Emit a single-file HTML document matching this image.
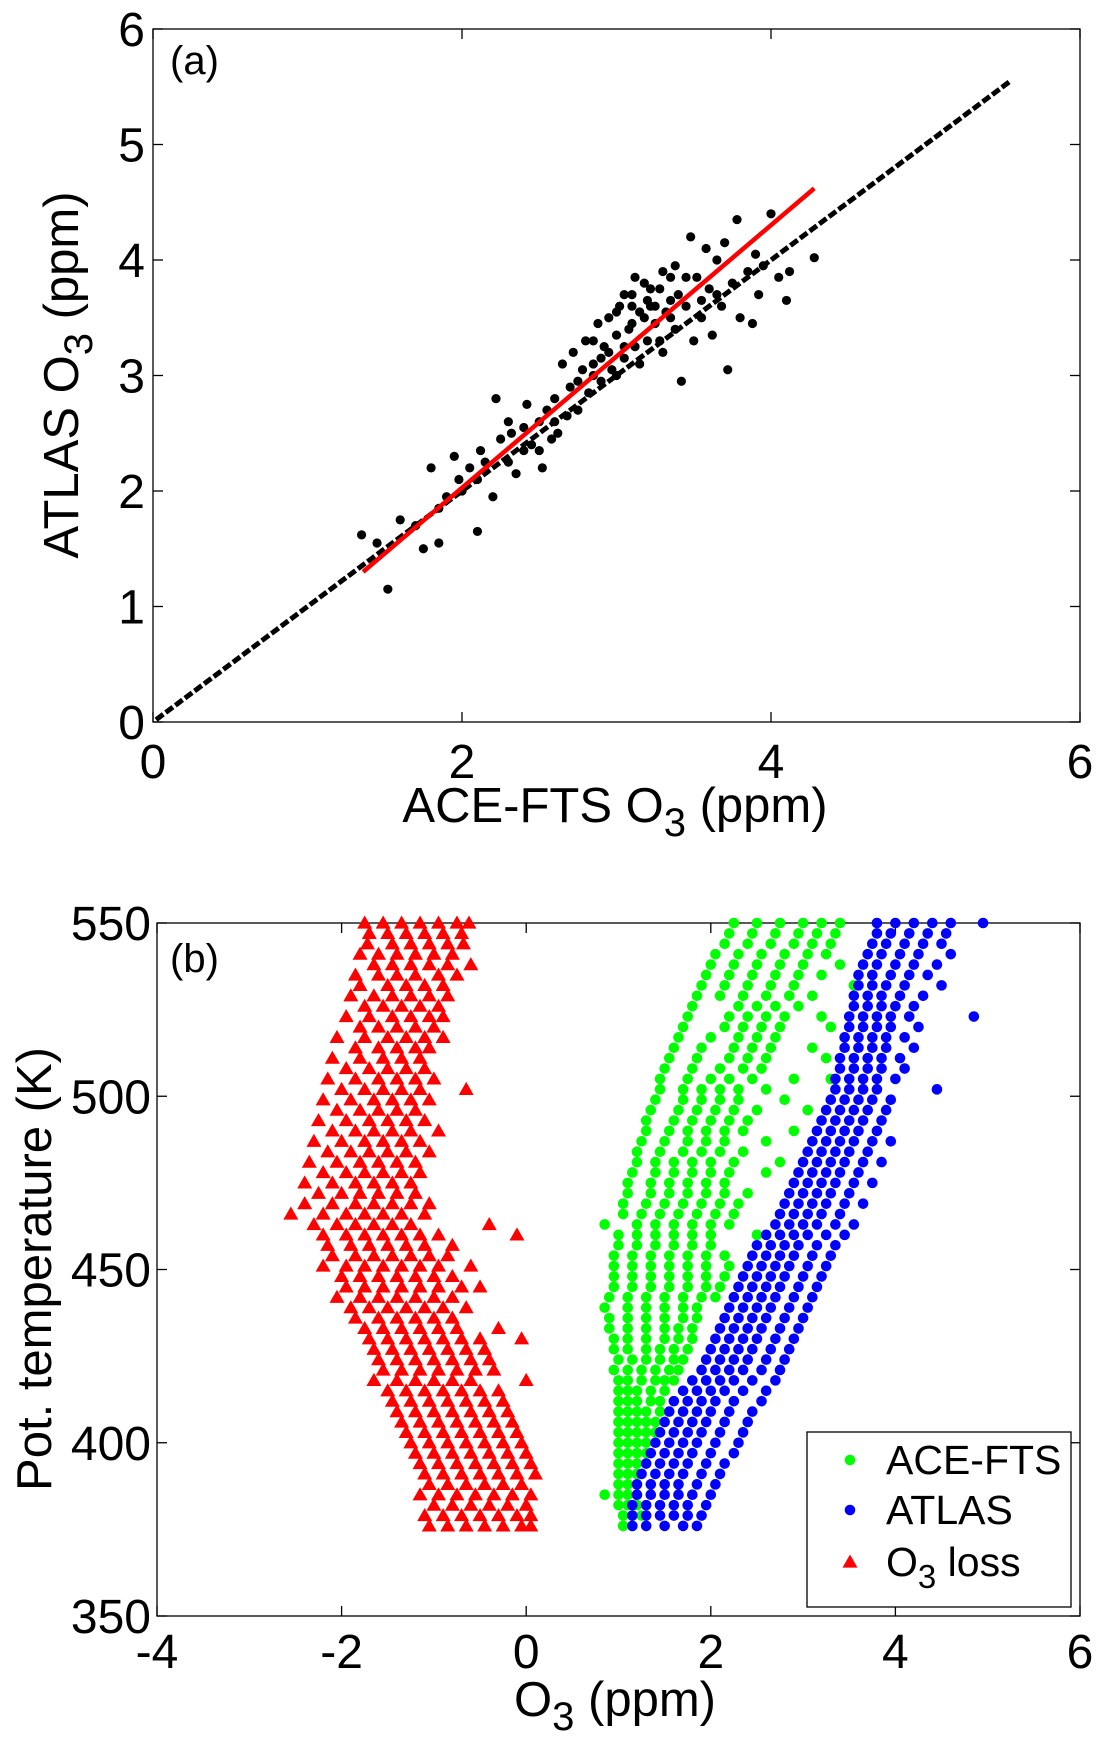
<!DOCTYPE html>
<html><head><meta charset="utf-8"><style>
html,body{margin:0;padding:0;background:#fff}
svg{display:block;font-family:"Liberation Sans",sans-serif}
</style></head><body>
<svg id="fig" width="1107" height="1757" viewBox="0 0 1107 1757" xmlns="http://www.w3.org/2000/svg">
<g id="pa"></g>
<g id="pb"></g>
</svg>
<script>
// ---------- Panel (a) data ----------
const aXTicks=[0,2,4,6];
const aYTicks=[0,1,2,3,4,5,6];
const aPoints=[[1.35,1.62],[1.52,1.15],[1.45,1.55],[1.6,1.75],[1.7,1.7],[1.75,1.5],[1.8,2.2],[1.85,1.55],[1.9,1.95],[1.95,2.3],[1.98,2.1],[2.05,2.2],[2.1,1.65],[2.12,2.35],[2.15,2.25],[2.2,1.95],[2.22,2.8],[2.25,2.45],[2.3,2.25],[2.32,2.5],[2.35,2.15],[2.4,2.55],[2.42,2.75],[2.45,2.4],[2.5,2.6],[2.52,2.2],[2.55,2.7],[2.58,2.45],[2.6,2.8],[2.62,2.5],[2.65,3.1],[2.68,2.65],[2.7,2.9],[2.72,3.2],[2.75,2.7],[2.78,3.05],[2.8,3.3],[2.82,2.85],[2.85,3.1],[2.88,3.45],[2.9,2.95],[2.92,3.25],[2.95,3.5],[2.97,3.05],[3.0,3.35],[3.02,3.6],[3.05,3.15],[3.08,3.4],[3.1,3.7],[3.12,3.25],[3.15,3.55],[3.18,3.8],[3.2,3.3],[3.22,3.6],[3.25,3.45],[3.28,3.75],[3.3,3.2],[3.32,3.55],[3.35,3.85],[3.38,3.4],[3.4,3.7],[3.42,2.95],[3.45,3.6],[3.48,4.2],[3.5,3.3],[3.52,3.85],[3.55,3.5],[3.58,4.1],[3.6,3.75],[3.62,3.35],[3.65,4.0],[3.68,3.6],[3.7,4.15],[3.72,3.05],[3.75,3.8],[3.78,4.35],[3.8,3.5],[3.85,3.9],[3.9,4.05],[3.92,3.7],[3.95,3.95],[4.0,4.4],[4.05,3.85],[4.1,3.65],[4.28,4.02],[3.0,3.0],[2.9,3.15],[3.1,3.45],[3.2,3.65],[3.3,3.9],[2.6,2.6],[2.4,2.35],[2.0,2.0],[1.85,1.85],[3.05,3.25],[3.15,3.1],[3.25,3.6],[3.35,3.5],[2.75,2.95],[2.85,3.3],[3.45,3.85],[3.55,3.65],[3.65,3.7],[3.0,3.55],[2.5,2.35],[2.3,2.6],[2.1,2.1],[3.38,3.95],[3.12,3.85],[4.12,3.9],[3.88,3.45],[3.05,3.7],[3.18,3.5],[3.28,3.3],[2.95,3.2],[3.22,3.75],[3.35,3.65],[2.85,3.0],[3.1,3.6]];
const aOneToOne=[[0.02,0.02],[5.55,5.55]];
const aFit=[[1.36,1.3],[4.28,4.62]];

// ---------- Panel (b) data: rows [theta, x1, x2, ...] ----------
const bXTicks=[-4,-2,0,2,4,6];
const bYTicks=[350,400,450,500,550];
const lossRows=[[550,-1.75,-1.55,-1.35,-1.15,-0.95,-0.75,-0.62],[547,-1.7,-1.5,-1.3,-1.1,-0.9,-0.7],[544,-1.72,-1.45,-1.25,-1.05,-0.85,-0.68],[541,-1.8,-1.6,-1.4,-1.2,-1.0,-0.8],[538,-1.65,-1.45,-1.25,-1.05,-0.85,-0.6],[535,-1.85,-1.6,-1.4,-1.2,-0.95,-0.75],[532,-1.8,-1.5,-1.3,-1.1,-0.9],[529,-1.9,-1.65,-1.45,-1.25,-1.05,-0.85],[526,-1.75,-1.55,-1.35,-1.15,-0.95],[523,-1.95,-1.7,-1.45,-1.25,-1.05,-0.9],[520,-1.8,-1.6,-1.4,-1.2,-1.0],[517,-2.05,-1.75,-1.5,-1.3,-1.1,-0.9],[514,-1.85,-1.6,-1.4,-1.2,-1.05],[511,-2.1,-1.8,-1.55,-1.35,-1.15],[508,-1.95,-1.7,-1.5,-1.3,-1.1],[505,-2.15,-1.85,-1.6,-1.4,-1.2,-1.0],[502,-2.0,-1.75,-1.55,-1.35,-1.15,-0.65],[499,-2.2,-1.9,-1.65,-1.45,-1.25,-1.05],[496,-2.05,-1.8,-1.6,-1.4,-1.2],[493,-2.25,-1.95,-1.7,-1.5,-1.3,-1.1],[490,-2.1,-1.85,-1.65,-1.45,-1.25,-0.95],[487,-2.3,-2.0,-1.75,-1.55,-1.35,-1.15],[484,-2.15,-1.9,-1.7,-1.5,-1.3,-1.05],[481,-2.35,-2.05,-1.8,-1.6,-1.4,-1.2],[478,-2.2,-1.95,-1.75,-1.55,-1.35,-1.15],[475,-2.4,-2.1,-1.85,-1.65,-1.45,-1.25],[472,-2.25,-2.0,-1.8,-1.6,-1.4,-1.2],[469,-2.4,-2.1,-1.85,-1.65,-1.45,-1.25,-1.05],[466,-2.55,-2.2,-1.95,-1.75,-1.55,-1.35,-1.1],[463,-2.3,-2.05,-1.85,-1.65,-1.45,-1.25,-0.4],[460,-2.2,-1.95,-1.75,-1.55,-1.35,-1.15,-0.95,-0.1],[457,-2.15,-1.9,-1.7,-1.5,-1.3,-1.1,-0.8],[454,-2.1,-1.85,-1.65,-1.45,-1.25,-1.05,-0.85],[451,-2.2,-1.95,-1.75,-1.55,-1.35,-1.15,-0.95,-0.6],[448,-2.0,-1.8,-1.6,-1.4,-1.2,-1.0,-0.8],[445,-1.95,-1.75,-1.55,-1.35,-1.15,-0.95,-0.7,-0.5],[442,-2.05,-1.8,-1.6,-1.4,-1.2,-1.0,-0.8],[439,-1.9,-1.7,-1.5,-1.3,-1.1,-0.9,-0.65],[436,-1.85,-1.6,-1.4,-1.2,-1.0,-0.8],[433,-1.75,-1.55,-1.35,-1.15,-0.95,-0.75,-0.3],[430,-1.7,-1.5,-1.3,-1.1,-0.9,-0.7,-0.5,-0.05],[427,-1.65,-1.45,-1.25,-1.05,-0.85,-0.65,-0.45],[424,-1.6,-1.4,-1.2,-1.0,-0.8,-0.6,-0.4],[421,-1.55,-1.35,-1.15,-0.95,-0.75,-0.55,-0.35],[418,-1.65,-1.4,-1.2,-1.0,-0.8,-0.6,0.0],[415,-1.5,-1.3,-1.1,-0.9,-0.7,-0.5,-0.3],[412,-1.45,-1.25,-1.05,-0.85,-0.65,-0.45,-0.25],[409,-1.4,-1.2,-1.0,-0.8,-0.6,-0.4,-0.2],[406,-1.35,-1.15,-0.95,-0.75,-0.55,-0.35,-0.15],[403,-1.3,-1.1,-0.9,-0.7,-0.5,-0.3,-0.1],[400,-1.25,-1.05,-0.85,-0.65,-0.45,-0.25,-0.05],[397,-1.2,-1.0,-0.8,-0.6,-0.4,-0.2,0.0],[394,-1.15,-0.95,-0.75,-0.55,-0.35,-0.15,0.05],[391,-1.1,-0.9,-0.7,-0.5,-0.3,-0.1,0.1],[388,-1.05,-0.85,-0.65,-0.45,-0.25,-0.05],[385,-1.15,-0.95,-0.75,-0.55,-0.35,-0.15,0.05],[382,-1.0,-0.8,-0.6,-0.4,-0.2,0.0],[379,-1.1,-0.9,-0.7,-0.5,-0.3,-0.1,0.05],[376,-1.05,-0.85,-0.65,-0.45,-0.25,-0.05,0.05]];
const aceRows=[[550,2.25,2.5,2.75,3.0,3.2,3.4],[547,2.2,2.45,2.7,2.95,3.15,3.35],[544,2.15,2.4,2.65,2.9,3.1,3.3],[541,2.05,2.3,2.55,2.8,3.05,3.25],[538,2.0,2.25,2.5,2.75,3.0,3.4],[535,1.95,2.2,2.45,2.7,2.95,3.2],[532,1.9,2.15,2.4,2.65,2.9,3.55],[529,1.85,2.1,2.35,2.6,2.85,3.1],[526,1.8,2.3,2.5,2.7,2.95],[523,1.75,2.2,2.4,2.6,2.8,3.2],[520,1.7,2.15,2.35,2.55,2.75,3.3],[517,1.65,2.0,2.3,2.5,2.7],[514,1.6,1.9,2.25,2.45,2.65,3.1],[511,1.55,1.85,2.2,2.4,2.6,3.25],[508,1.5,1.8,2.1,2.35,2.55],[505,1.45,1.75,2.0,2.2,2.45,2.9,3.3],[502,1.45,1.7,1.9,2.1,2.3,2.6],[499,1.4,1.7,1.9,2.1,2.3,2.8],[496,1.35,1.65,1.85,2.05,2.25,2.5,3.05],[493,1.3,1.6,1.8,2.0,2.2,2.4],[490,1.3,1.55,1.75,1.95,2.15,2.35,2.9],[487,1.25,1.5,1.75,1.95,2.15,2.6],[484,1.2,1.45,1.7,1.9,2.1,2.35],[481,1.2,1.4,1.6,1.8,2.0,2.25,2.75],[478,1.15,1.4,1.6,1.8,2.0,2.2,2.6],[475,1.1,1.35,1.55,1.75,1.95,2.15],[472,1.1,1.35,1.55,1.75,1.95,2.15,2.4],[469,1.05,1.3,1.5,1.7,1.9,2.1,2.3],[466,1.05,1.25,1.45,1.65,1.85,2.05,2.25],[463,0.85,1.2,1.4,1.6,1.8,2.0,2.2],[460,1.0,1.2,1.4,1.6,1.8,2.0,2.5],[457,1.0,1.2,1.4,1.6,1.8,2.0],[454,0.95,1.15,1.35,1.55,1.75,1.95,2.15],[451,0.95,1.15,1.35,1.55,1.75,1.95,2.2],[448,0.95,1.15,1.35,1.55,1.75,1.95,2.15],[445,0.95,1.15,1.35,1.55,1.75,1.95,2.1],[442,0.9,1.1,1.3,1.5,1.7,1.9,2.05],[439,0.85,1.1,1.3,1.5,1.7,1.85],[436,0.9,1.1,1.3,1.5,1.7,1.85],[433,0.9,1.1,1.3,1.5,1.65,1.8],[430,0.95,1.1,1.3,1.5,1.65,1.8],[427,0.95,1.1,1.3,1.45,1.6,1.75],[424,1.0,1.15,1.3,1.45,1.6,1.7],[421,0.95,1.1,1.25,1.4,1.55,1.65],[418,1.0,1.1,1.25,1.4,1.5,1.6],[415,1.0,1.1,1.2,1.35,1.5],[412,1.0,1.1,1.2,1.35,1.45],[409,1.0,1.1,1.2,1.3,1.45],[406,1.0,1.1,1.2,1.3,1.4],[403,1.0,1.1,1.2,1.3,1.4],[400,1.0,1.1,1.2,1.3],[397,1.0,1.1,1.2,1.3],[394,1.0,1.1,1.2,1.3],[391,1.0,1.1,1.2],[388,1.0,1.1,1.2],[385,0.85,1.0,1.1,1.2],[382,1.0,1.1,1.2],[379,1.05,1.15,1.25],[376,1.05,1.15]];
const atlasRows=[[550,3.8,4.0,4.2,4.4,4.6,4.95],[547,3.8,3.95,4.15,4.35,4.55],[544,3.75,3.9,4.1,4.3,4.5],[541,3.7,3.85,4.05,4.25,4.6],[538,3.65,3.8,4.0,4.2,4.45],[535,3.6,3.75,3.95,4.15,4.35],[532,3.6,3.75,3.9,4.1,4.5],[529,3.55,3.7,3.85,4.05,4.3],[526,3.55,3.7,3.85,4.0,4.2],[523,3.5,3.65,3.8,3.95,4.15,4.85],[520,3.5,3.65,3.8,3.95,4.25],[517,3.45,3.6,3.75,3.9,4.1],[514,3.45,3.6,3.75,3.9,4.2],[511,3.4,3.55,3.7,3.85,4.05],[508,3.4,3.55,3.7,3.85,4.1],[505,3.35,3.5,3.65,3.8,4.0],[502,3.35,3.5,3.65,3.8,4.45],[499,3.3,3.45,3.6,3.75,3.95],[496,3.25,3.4,3.55,3.7,3.9],[493,3.2,3.35,3.5,3.65,3.85],[490,3.15,3.3,3.45,3.6,3.8],[487,3.1,3.25,3.4,3.55,3.75,3.95],[484,3.05,3.2,3.35,3.5,3.7],[481,3.0,3.15,3.3,3.45,3.65,3.85],[478,2.95,3.1,3.25,3.4,3.6],[475,2.9,3.05,3.2,3.35,3.55,3.75],[472,2.85,3.0,3.15,3.3,3.5],[469,2.8,2.95,3.1,3.25,3.45,3.65],[466,2.75,2.9,3.05,3.2,3.4],[463,2.7,2.85,3.0,3.15,3.35,3.55],[460,2.6,2.75,2.9,3.05,3.25,3.45],[457,2.5,2.65,2.8,2.95,3.15,3.35],[454,2.45,2.6,2.75,2.9,3.1,3.3],[451,2.4,2.55,2.7,2.85,3.05,3.25],[448,2.35,2.5,2.65,2.8,3.0,3.2],[445,2.3,2.45,2.6,2.75,2.95,3.15],[442,2.25,2.4,2.55,2.7,2.9,3.1],[439,2.2,2.35,2.5,2.65,2.85,3.05],[436,2.15,2.3,2.45,2.6,2.8,3.0],[433,2.1,2.25,2.4,2.55,2.75,2.95],[430,2.05,2.2,2.35,2.5,2.7,2.9],[427,2.0,2.15,2.3,2.45,2.65,2.85],[424,1.95,2.1,2.25,2.4,2.6,2.8],[421,1.9,2.05,2.2,2.35,2.55,2.75],[418,1.8,1.95,2.1,2.25,2.45,2.7],[415,1.7,1.85,2.0,2.15,2.35,2.6],[412,1.6,1.75,1.9,2.05,2.25,2.55],[409,1.55,1.7,1.85,2.0,2.2,2.45],[406,1.5,1.65,1.8,1.95,2.15,2.4],[403,1.45,1.6,1.75,1.9,2.1,2.35],[400,1.4,1.55,1.7,1.85,2.05,2.3],[397,1.35,1.5,1.65,1.8,2.0,2.25],[394,1.3,1.45,1.6,1.75,1.95,2.15],[391,1.25,1.4,1.55,1.7,1.9,2.1],[388,1.2,1.35,1.5,1.65,1.85,2.05],[385,1.2,1.35,1.5,1.65,1.8,2.0],[382,1.15,1.3,1.45,1.6,1.75,1.95],[379,1.15,1.3,1.45,1.6,1.75,1.9],[376,1.15,1.3,1.5,1.7,1.85]];
const legendLabels=["ACE-FTS","ATLAS","loss"];

const NS="http://www.w3.org/2000/svg";
function mk(parent,tag,attrs){const e=document.createElementNS(NS,tag);for(const k in attrs)e.setAttribute(k,attrs[k]);parent.appendChild(e);return e;}
const TF=48, TT=49;

// ---------- Panel (a) ----------
const A={l:153,r:1080,t:29,b:722,x0:0,x1:6,y0:0,y1:6};
const ax=v=>A.l+(v-A.x0)/(A.x1-A.x0)*(A.r-A.l);
const ay=v=>A.b-(v-A.y0)/(A.y1-A.y0)*(A.b-A.t);
const pa=document.getElementById('pa');
let el=mk(pa,'rect',{x:A.l,y:A.t,width:A.r-A.l,height:A.b-A.t,fill:'#fff',stroke:'#000','stroke-width':1.3});


aXTicks.forEach(v=>{
  mk(pa,'line',{x1:ax(v),x2:ax(v),y1:A.b,y2:A.b-10,stroke:'#000','stroke-width':1.3});
  mk(pa,'line',{x1:ax(v),x2:ax(v),y1:A.t,y2:A.t+10,stroke:'#000','stroke-width':1.3});
  const t=mk(pa,'text',{x:ax(v),y:A.b+56,'font-size':TF,'text-anchor':'middle'});t.textContent=v;
  
  
});
aYTicks.forEach(v=>{
  mk(pa,'line',{x1:A.l,x2:A.l+10,y1:ay(v),y2:ay(v),stroke:'#000','stroke-width':1.3});
  mk(pa,'line',{x1:A.r,x2:A.r-10,y1:ay(v),y2:ay(v),stroke:'#000','stroke-width':1.3});
  const t=mk(pa,'text',{x:A.l-8,y:ay(v)+17,'font-size':TF,'text-anchor':'end'});t.textContent=v;
  
  
});
aPoints.forEach(p=>{
  const c=mk(pa,'circle',{cx:ax(p[0]),cy:ay(p[1]),r:4.6,fill:'#000'});
  
  
});
el=mk(pa,'line',{x1:ax(aOneToOne[0][0]),y1:ay(aOneToOne[0][1]),x2:ax(aOneToOne[1][0]),y2:ay(aOneToOne[1][1]),stroke:'#000','stroke-width':5,'stroke-dasharray':'9 3'});


el=mk(pa,'line',{x1:ax(aFit[0][0]),y1:ay(aFit[0][1]),x2:ax(aFit[1][0]),y2:ay(aFit[1][1]),stroke:'#f00','stroke-width':4.5});


el=mk(pa,'text',{x:170,y:74,'font-size':40});el.textContent='(a)';


el=mk(pa,'text',{x:0,y:0,'font-size':TT,'text-anchor':'middle',transform:'translate(78,375) rotate(-90)'});
el.innerHTML='ATLAS O<tspan font-size="40" dy="14">3</tspan><tspan dy="-14"> (ppm)</tspan>';


el=mk(pa,'text',{x:615,y:822,'font-size':TT,'text-anchor':'middle'});
el.innerHTML='ACE-FTS O<tspan font-size="40" dy="14">3</tspan><tspan dy="-14"> (ppm)</tspan>';



// ---------- Panel (b) ----------
const B={l:157,r:1080,t:923,b:1616,x0:-4,x1:6,y0:350,y1:550};
const bx=v=>B.l+(v-B.x0)/(B.x1-B.x0)*(B.r-B.l);
const by=v=>B.b-(v-B.y0)/(B.y1-B.y0)*(B.b-B.t);
const pb=document.getElementById('pb');
el=mk(pb,'rect',{x:B.l,y:B.t,width:B.r-B.l,height:B.b-B.t,fill:'#fff',stroke:'#000','stroke-width':1.3});


bXTicks.forEach(v=>{
  mk(pb,'line',{x1:bx(v),x2:bx(v),y1:B.b,y2:B.b-10,stroke:'#000','stroke-width':1.3});
  mk(pb,'line',{x1:bx(v),x2:bx(v),y1:B.t,y2:B.t+10,stroke:'#000','stroke-width':1.3});
  const t=mk(pb,'text',{x:bx(v),y:B.b+52,'font-size':TF,'text-anchor':'middle'});t.textContent=v;
  
  
});
bYTicks.forEach(v=>{
  mk(pb,'line',{x1:B.l,x2:B.l+10,y1:by(v),y2:by(v),stroke:'#000','stroke-width':1.3});
  mk(pb,'line',{x1:B.r,x2:B.r-10,y1:by(v),y2:by(v),stroke:'#000','stroke-width':1.3});
  const t=mk(pb,'text',{x:B.l-6,y:by(v)+17,'font-size':TF,'text-anchor':'end'});t.textContent=v;
  
  
});
function dot(g,x,y,col){const c=mk(g,'circle',{cx:x,cy:y,r:5.3,fill:col});return c;}
function tri(g,x,y,col){const s=7.5;const c=mk(g,'polygon',{points:`${x},${y-s} ${x+s},${y+s*0.75} ${x-s},${y+s*0.75}`,fill:col});return c;}
aceRows.forEach(r=>{for(let i=1;i<r.length;i++){const c=dot(pb,bx(r[i]),by(r[0]),'#0f0');
  
  }});
atlasRows.forEach(r=>{for(let i=1;i<r.length;i++){const c=dot(pb,bx(r[i]),by(r[0]),'#00f');
  
  }});
lossRows.forEach(r=>{for(let i=1;i<r.length;i++){const c=tri(pb,bx(r[i]),by(r[0]),'#f00');
  
  }});
el=mk(pb,'text',{x:170,y:972,'font-size':40});el.textContent='(b)';


el=mk(pb,'text',{x:0,y:0,'font-size':TT,'text-anchor':'middle',transform:'translate(51,1269) rotate(-90)'});el.textContent='Pot. temperature (K)';


el=mk(pb,'text',{x:615,y:1716,'font-size':TT,'text-anchor':'middle'});
el.innerHTML='O<tspan font-size="40" dy="14">3</tspan><tspan dy="-14"> (ppm)</tspan>';


// legend
const lg=mk(pb,'g',{});


mk(lg,'rect',{x:807,y:1432,width:264,height:175,fill:'#fff',stroke:'#000','stroke-width':1.3});
const legY=[1460,1510,1562];
let m=dot(lg,850,legY[0],'#0f0');
m=dot(lg,850,legY[1],'#00f');
m=tri(lg,850,legY[2],'#f00');
let t=mk(lg,'text',{x:886,y:legY[0]+14,'font-size':41});t.textContent=legendLabels[0];

t=mk(lg,'text',{x:886,y:legY[1]+14,'font-size':41});t.textContent=legendLabels[1];

t=mk(lg,'text',{x:886,y:legY[2]+14,'font-size':41});t.innerHTML='O<tspan font-size="33" dy="12">3</tspan><tspan dy="-12"> '+legendLabels[2]+'</tspan>';

</script>
</body></html>
